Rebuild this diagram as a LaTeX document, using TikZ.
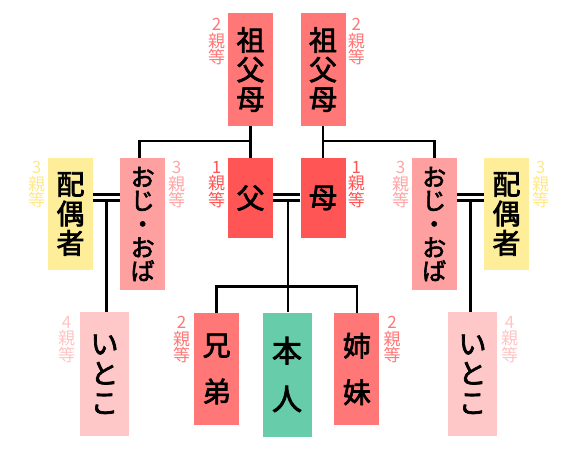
\documentclass[tikz,border=0pt]{standalone}
\usepackage{fontspec}
\setmainfont{Noto Sans CJK JP}
\newfontfamily\jpm{Noto Sans CJK JP}[FakeBold=2.5]
\definecolor{cGp}{HTML}{FF7777}
\definecolor{cPa}{HTML}{FF5555}
\definecolor{cUn}{HTML}{FFA0A0}
\definecolor{cSp}{HTML}{FFEE99}
\definecolor{cCo}{HTML}{FFC8C8}
\definecolor{cMe}{HTML}{66CCAA}
\definecolor{lGp}{HTML}{FF7777}
\definecolor{lPa}{HTML}{FF5555}
\definecolor{lUn}{HTML}{FFA5A5}
\definecolor{lSp}{HTML}{FFE88A}
\definecolor{lCo}{HTML}{FFC4C4}
\begin{document}
\begin{tikzpicture}[x=1pt,y=-1pt,
  box/.style={inner sep=0pt, align=center, minimum width=45pt, font=\jpm\fontsize{28}{29.5}\selectfont},
  kbox/.style={box, font=\jpm\fontsize{24}{23.5}\selectfont},
  lbl/.style={inner sep=0pt, align=center, anchor=north, font=\fontsize{17}{16.5}\selectfont},
  ln/.style={line width=2.6pt, draw=black},
  dl/.style={line width=2.4pt, draw=black}
]
\useasboundingbox (0,0) rectangle (576,450);
% boxes
\node[box, fill=cGp, minimum height=113pt] (gpL) at (250.5,69.5) {祖\\父\\母};
\node[box, fill=cGp, minimum height=113pt] (gpR) at (323,69.5) {祖\\父\\母};
\node[box, fill=cPa, minimum height=80pt] (fa) at (250.5,198) {父};
\node[box, fill=cPa, minimum height=80pt] (mo) at (323,198) {母};
\node[kbox, fill=cUn, minimum height=132pt] (unL) at (142.7,224) {お\\じ\\・\\お\\ば};
\node[kbox, fill=cUn, minimum height=132pt] (unR) at (434.2,224) {お\\じ\\・\\お\\ば};
\node[box, fill=cSp, minimum height=112pt] (spL) at (70.5,214) {配\\偶\\者};
\node[box, fill=cSp, minimum height=112pt] (spR) at (506.5,214) {配\\偶\\者};
\node[box, fill=cCo, minimum width=49pt, minimum height=124pt] (coL) at (104.5,374.3) {い\\と\\こ};
\node[box, fill=cCo, minimum width=49pt, minimum height=124pt] (coR) at (472.5,374.3) {い\\と\\こ};
\node[box, fill=cGp, minimum height=112pt] (sib1) at (216.7,369) {兄\\[17pt]弟};
\node[box, fill=cMe, minimum width=49pt, minimum height=124pt, font=\jpm\fontsize{30}{31}\selectfont] (me) at (287,374.5) {本\\[17pt]人};
\node[box, fill=cGp, minimum height=112pt] (sib2) at (356.9,369) {姉\\[17pt]妹};
% labels
\node[lbl, text=lGp] (t1) at (216.7,18) {2\\親\\等};
\node[lbl, text=lGp] (t2) at (356.3,18) {2\\親\\等};
\node[lbl, text=lPa] (t3) at (216.7,161) {1\\親\\等};
\node[lbl, text=lPa] (t4) at (356.3,161) {1\\親\\等};
\node[lbl, text=lUn] (t5) at (176.7,161) {3\\親\\等};
\node[lbl, text=lUn] (t6) at (400.7,161) {3\\親\\等};
\node[lbl, text=lSp] (t7) at (36.7,161) {3\\親\\等};
\node[lbl, text=lSp] (t8) at (540.7,161) {3\\親\\等};
\node[lbl, text=lCo] (t9) at (66.7,316) {4\\親\\等};
\node[lbl, text=lCo] (t10) at (509.7,316) {4\\親\\等};
\node[lbl, text=lGp] (t11) at (181.7,316) {2\\親\\等};
\node[lbl, text=lGp] (t12) at (392,316) {2\\親\\等};
% helper coordinates
\coordinate (hT) at (0,141);
\coordinate (dA) at (0,194.5);
\coordinate (dB) at (0,200.5);
\coordinate (sb) at (0,286.7);
\coordinate (mL) at (106.5,200.5);
\coordinate (mP) at (288,200.5);
\coordinate (mR) at (470.5,200.5);
\coordinate (uL) at (139.5,158);
% grandparents to children
\draw[ln] (gpL.south) -- (fa.north);
\draw[ln] (gpL.south |- hT) -| (uL);
\draw[ln] (gpR.south) -- (mo.north);
\draw[ln] (gpR.south |- hT) -| (unR.north);
% marriages
\draw[dl] (spL.east |- dA) -- (unL.west |- dA);
\draw[dl] (spL.east |- dB) -- (unL.west |- dB);
\draw[dl] (fa.east |- dA) -- (mo.west |- dA);
\draw[dl] (fa.east |- dB) -- (mo.west |- dB);
\draw[dl] (unR.east |- dA) -- (spR.west |- dA);
\draw[dl] (unR.east |- dB) -- (spR.west |- dB);
% children
\draw[ln] (mL) -- (mL |- coL.north);
\draw[ln] (mR) -- (mR |- coR.north);
\draw[ln] (mP) -- (mP |- me.north);
\draw[ln] (sib1.north) -- (sib1.north |- sb) -- (sib2.north |- sb) -- (sib2.north);
\end{tikzpicture}
\end{document}
